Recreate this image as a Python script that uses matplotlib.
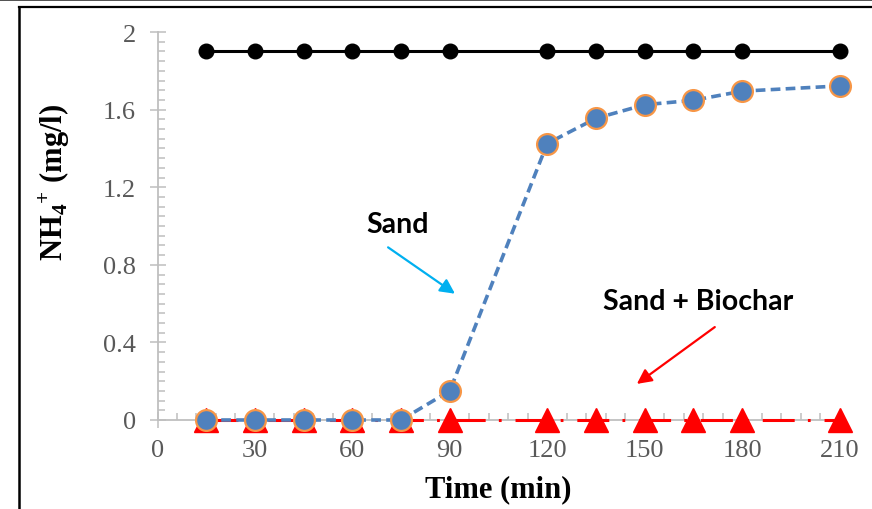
import matplotlib
matplotlib.use("Agg")
import matplotlib.pyplot as plt
from matplotlib.lines import Line2D
from matplotlib.ticker import MultipleLocator, FuncFormatter

# dados
tempo = [15, 30, 45, 60, 75, 90, 120, 135, 150, 165, 180, 210]
entrada = [1.9, 1.9, 1.9, 1.9, 1.9, 1.9, 1.9, 1.9, 1.9, 1.9, 1.9, 1.9]
areia = [0, 0, 0, 0, 0, 0.15, 1.425, 1.555, 1.625, 1.648, 1.695, 1.722]
areia_biochar = [0, 0, 0, 0, 0, 0, 0, 0, 0, 0, 0, 0]

x_ticks = [0, 30, 60, 90, 120, 150, 180, 210]
y_ticks = [0, 0.4, 0.8, 1.2, 1.6, 2]

plt.rcParams['lines.scale_dashes'] = False
plt.rcParams['mathtext.fontset'] = 'custom'
plt.rcParams['mathtext.bf'] = 'Liberation Serif:bold'
plt.rcParams['mathtext.rm'] = 'Liberation Serif:bold'

azul = '#4F81BD'
laranja = '#F79646'
cinza = '#BFBFBF'

fig = plt.figure(figsize=(8.72, 5.10), dpi=100)
ax = fig.add_axes([157.5 / 872, 1 - 421 / 510, 682 / 872, 388 / 510])

# linha de entrada (preta)
ax.plot(tempo, entrada, color='black', lw=2.2, marker='o', ms=10.5, zorder=3,
        clip_on=False)

# areia + biochar (vermelho, traço-ponto)
ln, = ax.plot(tempo, areia_biochar, color='red', lw=2.2, zorder=4,
              marker='^', ms=17, markeredgecolor='red', clip_on=False)
ln.set_dashes([23, 9.5, 2, 10])

# areia (azul tracejado)
la, = ax.plot(tempo, areia, color=azul, lw=2.6, zorder=5, marker='o', ms=15,
              markerfacecolor=azul, markeredgecolor=laranja, markeredgewidth=1.6,
              clip_on=False)
la.set_dashes([7, 3.8])

ax.set_xlim(0, 210)
ax.set_ylim(0, 2)
ax.set_xticks(x_ticks)
ax.set_yticks(y_ticks)
ax.xaxis.set_minor_locator(MultipleLocator(6))
ax.yaxis.set_minor_locator(MultipleLocator(0.05))
ax.yaxis.set_major_formatter(FuncFormatter(lambda v, p: f"{v:g}"))

for s in ['top', 'right']:
    ax.spines[s].set_visible(False)
for s in ['left', 'bottom']:
    ax.spines[s].set_color(cinza)
    ax.spines[s].set_linewidth(1.3)

ax.tick_params(which='major', direction='inout', length=11, width=1.1, color=cinza,
               labelsize=19, labelcolor='#595959', labelfontfamily='Liberation Serif')
ax.tick_params(axis='x', which='major', pad=8)
ax.tick_params(axis='y', which='major', pad=10)
ax.tick_params(which='minor', direction='in', length=5, width=1.1, color=cinza)

ax.set_xlabel("Time (min)", fontsize=22, fontweight='bold', family='Liberation Serif')
ax.xaxis.set_label_coords(0.5, -0.14)
ax.text(-0.152, 0.615, r"NH$_\mathbf{4}$$^\mathbf{+}$ (mg/l)", transform=ax.transAxes,
        rotation=90, ha='center', va='center', fontsize=22, fontweight='bold',
        family='Liberation Serif')

# anotações
ax.text(74, 1.01, "Sand", ha='center', va='center', fontsize=20.5, fontweight='bold',
        family='Lato')
ax.annotate("", xy=(91.6, 0.651), xytext=(71, 0.89),
            arrowprops=dict(arrowstyle='-|>', color='#00B0F0', lw=1.6,
                            mutation_scale=22, shrinkA=0, shrinkB=0))
ax.text(166.4, 0.613, "Sand + Biochar", ha='center', va='center', fontsize=20.5,
        fontweight='bold', family='Lato')
ax.annotate("", xy=(147.6, 0.186), xytext=(171.6, 0.479),
            arrowprops=dict(arrowstyle='-|>', color='red', lw=1.6,
                            mutation_scale=22, shrinkA=0, shrinkB=0))

# moldura
fig.add_artist(Line2D([0, 1], [1 - 0.8 / 510] * 2, color='#333333', lw=1.2,
                      transform=fig.transFigure))
fig.add_artist(Line2D([18.5 / 872, 1], [1 - 7.5 / 510] * 2, color='black', lw=1.6,
                      transform=fig.transFigure))
fig.add_artist(Line2D([18.5 / 872] * 2, [0, 1 - 7.5 / 510], color='black', lw=1.8,
                      transform=fig.transFigure))

fig.savefig("out.png", dpi=100)
